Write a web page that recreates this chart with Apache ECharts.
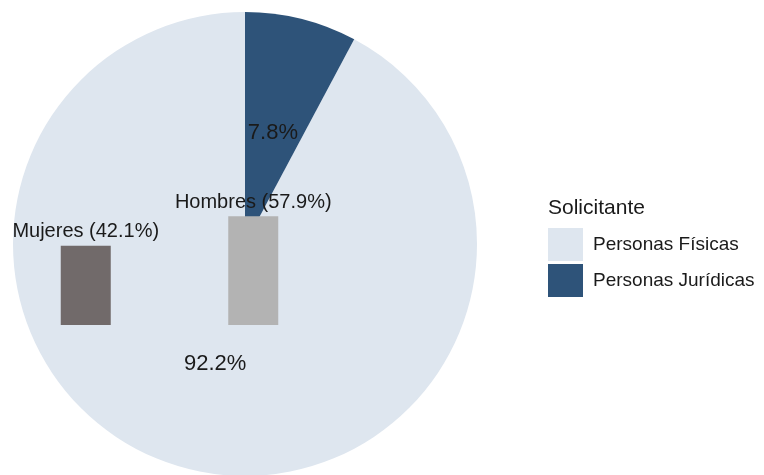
<!DOCTYPE html>
<html>
<head>
<meta charset="utf-8">
<script src="https://cdn.jsdelivr.net/npm/echarts@6/dist/echarts.min.js"></script>
<style>
html,body{margin:0;padding:0;background:#fff;}
#chart{width:764px;height:475px;}
</style>
</head>
<body>
<div id="chart"></div>
<script>
const pieNames = ['Personas Físicas', 'Personas Jurídicas'];
const pieValues = [92.2, 7.8];
const pieColors = ['#dee6ef', '#2e5379'];
const barCategories = ['Mujeres', 'Hombres'];
const barValues = [42.1, 57.9];
const barColors = ['#716a6a', '#b3b3b3'];
const legendTitle = 'Solicitante';

const chart = echarts.init(document.getElementById('chart'));
const font = 'Arial, "Liberation Sans", sans-serif';
chart.setOption({
  animation: false,
  backgroundColor: '#ffffff',
  textStyle: { fontFamily: font },
  title: {
    text: legendTitle,
    left: 543,
    top: 193,
    textStyle: { fontSize: 21, fontWeight: 'normal', color: '#1a1a1a', fontFamily: font }
  },
  legend: {
    data: pieNames,
    orient: 'vertical',
    left: 548,
    top: 228,
    padding: 0,
    itemWidth: 35,
    itemHeight: 33,
    itemGap: 3,
    itemStyle: { borderWidth: 0 },
    textStyle: { fontSize: 19, color: '#1a1a1a', padding: [5, 0, 0, 5], fontFamily: font },
    icon: 'rect',
    selectedMode: false
  },
  grid: { left: 2, width: 335, top: 137, height: 188 },
  xAxis: {
    type: 'category',
    data: barCategories,
    show: false
  },
  yAxis: {
    type: 'value',
    min: 0,
    max: 100,
    show: false
  },
  series: [
    {
      type: 'pie',
      center: [245, 244],
      radius: [0, 232],
      startAngle: 90,
      clockwise: false,
      silent: true,
      z: 1,
      label: {
        show: true,
        position: 'inside',
        offset: [-1, 4],
        formatter: function (p) { return p.value.toFixed(1) + '%'; },
        fontSize: 22,
        color: '#1a1a1a',
        fontFamily: font
      },
      labelLine: { show: false },
      itemStyle: { borderWidth: 0 },
      emphasis: { disabled: true },
      data: pieNames.map((n, i) => ({ name: n, value: pieValues[i], itemStyle: { color: pieColors[i] } }))
    },
    {
      type: 'bar',
      barWidth: 50,
      z: 3,
      silent: true,
      label: {
        show: true,
        position: 'top',
        distance: 4,
        formatter: function (p) { return p.name + ' (' + p.value.toFixed(1) + '%)'; },
        fontSize: 20,
        color: '#1a1a1a',
        fontFamily: font
      },
      data: barCategories.map((c, i) => ({ value: barValues[i], itemStyle: { color: barColors[i] } }))
    }
  ]
});
</script>
</body>
</html>
